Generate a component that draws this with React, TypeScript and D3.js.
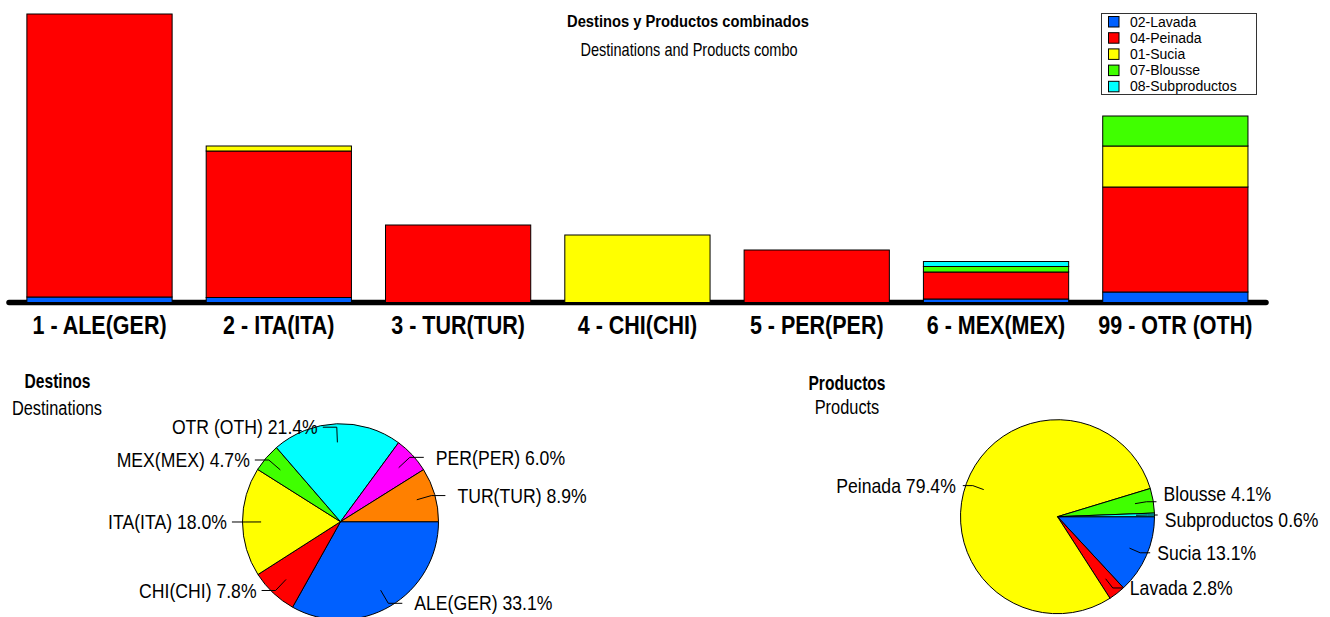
import * as d3 from 'd3'

// bar chart: destinations x products (stacked, bottom to top in legend order)
const DESTINATIONS = [
  '1 - ALE(GER)',
  '2 - ITA(ITA)',
  '3 - TUR(TUR)',
  '4 - CHI(CHI)',
  '5 - PER(PER)',
  '6 - MEX(MEX)',
  '99 - OTR (OTH)',
]
const PRODUCTS = ['02-Lavada', '04-Peinada', '01-Sucia', '07-Blousse', '08-Subproductos']
const PRODUCT_COLORS = ['#0060ff', '#ff0000', '#ffff00', '#40ff00', '#00ffff']
const LAVADA = [55, 50, 0, 0, 0, 35, 105]
const PEINADA = [2830, 1465, 775, 0, 525, 270, 1050]
const SUCIA = [0, 50, 0, 675, 0, 0, 410]
const BLOUSSE = [0, 0, 0, 0, 0, 55, 300]
const SUBPRODUCTOS = [0, 0, 0, 0, 0, 50, 0]

// pies
const PIE_COLORS = ['#0060ff', '#ff0000', '#ffff00', '#40ff00', '#00ffff', '#ff00ff', '#ff8000']
const DEST_PIE_LABELS = ['ALE(GER)', 'CHI(CHI)', 'ITA(ITA)', 'MEX(MEX)', 'OTR (OTH)', 'PER(PER)', 'TUR(TUR)']
const DEST_PIE_SHARES = [33.1, 7.8, 18.0, 4.7, 21.4, 6.0, 8.9]
const PROD_PIE_LABELS = ['Sucia', 'Lavada', 'Peinada', 'Blousse', 'Subproductos']
const PROD_PIE_SHARES = [13.1, 2.8, 79.4, 4.1, 0.6]

const WIDTH = 1330
const HEIGHT = 617
const FONT = "'Liberation Sans', Arial, sans-serif"
const BASELINE = 302.5

type Row = { dest: string } & Record<string, number | string>

const rows: Row[] = DESTINATIONS.map((dest, i) => ({
  dest,
  [PRODUCTS[0]]: LAVADA[i],
  [PRODUCTS[1]]: PEINADA[i],
  [PRODUCTS[2]]: SUCIA[i],
  [PRODUCTS[3]]: BLOUSSE[i],
  [PRODUCTS[4]]: SUBPRODUCTOS[i],
}))

// condensed look: plain sans squeezed horizontally
function Narrow({
  x,
  y,
  sx,
  size,
  bold,
  anchor = 'middle',
  dy,
  children,
}: {
  x: number
  y: number
  sx: number
  size: number
  bold?: boolean
  anchor?: 'start' | 'middle' | 'end'
  dy?: string
  children: string
}) {
  return (
    <g transform={`translate(${x},${y}) scale(${sx},1)`}>
      <text
        textAnchor={anchor}
        dy={dy}
        fontFamily={FONT}
        fontSize={size}
        fontWeight={bold ? 'bold' : 'normal'}
        fill="#000"
      >
        {children}
      </text>
    </g>
  )
}

type PieProps = {
  cx: number
  cy: number
  r: number
  labels: string[]
  shares: number[]
  elbowAt: number
  arm: number
  gapRight: number
  gapLeft: number
}

function LabeledPie({ cx, cy, r, labels, shares, elbowAt, arm, gapRight, gapLeft }: PieProps) {
  const arcs = d3
    .pie<number>()
    .sort(null)
    .value((d) => d)
    .startAngle(Math.PI / 2)
    .endAngle(Math.PI / 2 + 2 * Math.PI)(shares)
  const arc = d3.arc<d3.PieArcDatum<number>>().innerRadius(0).outerRadius(r)

  const items = arcs.map((a, i) => {
    const mid = (a.startAngle + a.endAngle) / 2
    const ux = Math.sin(mid)
    const uy = -Math.cos(mid)
    const right = ux >= 0
    const elbow: [number, number] = [ux * r * elbowAt, uy * r * elbowAt]
    const end: [number, number] = [elbow[0] + (right ? arm : -arm), elbow[1]]
    return {
      i,
      right,
      inner: [ux * r * 0.81, uy * r * 0.81] as [number, number],
      elbow,
      end,
      ty: elbow[1],
    }
  })

  // keep labels on the same side from overlapping
  for (const side of [true, false]) {
    const group = items.filter((d) => d.right === side).sort((a, b) => a.ty - b.ty)
    for (let k = 1; k < group.length; k++) {
      const gap = group[k].ty - group[k - 1].ty
      if (gap < 26) {
        const shift = (26 - gap) / 2
        group[k - 1].ty -= shift + 1.5
        group[k].ty += shift - 1.5
      }
    }
  }

  const line = d3.line()

  return (
    <g transform={`translate(${cx},${cy})`}>
      {arcs.map((a, i) => (
        <path key={i} d={arc(a) ?? undefined} fill={PIE_COLORS[i]} stroke="#000" strokeWidth={1} />
      ))}
      {items.map((d) => (
        <g key={d.i}>
          <path d={line([d.inner, d.elbow, d.end]) ?? undefined} fill="none" stroke="#000" strokeWidth={1} />
          <Narrow
            x={d.end[0] + (d.right ? gapRight : -gapLeft)}
            y={d.ty}
            sx={0.86}
            size={20.5}
            anchor={d.right ? 'start' : 'end'}
            dy="0.35em"
          >
            {`${labels[d.i]} ${shares[d.i].toFixed(1)}%`}
          </Narrow>
        </g>
      ))}
    </g>
  )
}

export default function App() {
  const x = d3.scaleBand<string>().domain(DESTINATIONS).range([9.85, 1265]).paddingInner(0.19).paddingOuter(0.095)
  const series = d3.stack<Row>().keys(PRODUCTS)(rows)
  const maxTotal = d3.max(series[series.length - 1], (d) => d[1]) ?? 1
  const y = d3.scaleLinear().domain([0, maxTotal]).range([BASELINE, 14])

  return (
    <svg
      width={WIDTH}
      height={HEIGHT}
      viewBox={`0 0 ${WIDTH} ${HEIGHT}`}
      style={{ position: 'absolute', left: 0, top: 0, background: '#fff' }}
    >
      {/* axis base line */}
      <line x1={9} x2={1266} y1={BASELINE} y2={BASELINE} stroke="#000" strokeWidth={5.5} strokeLinecap="round" />

      {series.map((s, si) => (
        <g key={s.key} fill={PRODUCT_COLORS[si]} stroke="#000" strokeWidth={1}>
          {s.map((d, di) =>
            d[1] - d[0] > 0 ? (
              <rect
                key={di}
                x={x(DESTINATIONS[di])}
                y={y(d[1])}
                width={x.bandwidth()}
                height={y(d[0]) - y(d[1])}
              />
            ) : null
          )}
        </g>
      ))}

      {DESTINATIONS.map((d) => (
        <Narrow key={d} x={(x(d) ?? 0) + x.bandwidth() / 2} y={334} sx={0.86} size={25} bold>
          {d}
        </Narrow>
      ))}

      {/* titles */}
      <Narrow x={688} y={27} sx={0.92} size={16} bold>
        Destinos y Productos combinados
      </Narrow>
      <Narrow x={689} y={56} sx={0.83} size={17.5}>
        Destinations and Products combo
      </Narrow>

      {/* legend */}
      <rect x={1101.5} y={13.5} width={155} height={81} fill="#fff" stroke="#333" strokeWidth={1} />
      {PRODUCTS.map((p, i) => (
        <g key={p} transform={`translate(1108,${16 + i * 16.2})`}>
          <rect x={0.5} y={0.5} width={10.5} height={10.5} fill={PRODUCT_COLORS[i]} stroke="#000" strokeWidth={1} />
          <text x={22} y={5.5} dy="0.36em" fontFamily={FONT} fontSize={14} fill="#000">
            {p}
          </text>
        </g>
      ))}

      {/* destinations pie */}
      <Narrow x={57.5} y={388} sx={0.8} size={19.5} bold>
        Destinos
      </Narrow>
      <Narrow x={57} y={415} sx={0.78} size={21}>
        Destinations
      </Narrow>
      <LabeledPie
        cx={340.5}
        cy={521.7}
        r={98}
        labels={DEST_PIE_LABELS}
        shares={DEST_PIE_SHARES}
        elbowAt={0.965}
        arm={14}
        gapRight={12}
        gapLeft={5}
      />

      {/* products pie */}
      <Narrow x={847} y={389.5} sx={0.8} size={19.5} bold>
        Productos
      </Narrow>
      <Narrow x={847} y={413.5} sx={0.78} size={21}>
        Products
      </Narrow>
      <LabeledPie
        cx={1057.5}
        cy={516.7}
        r={97}
        labels={PROD_PIE_LABELS}
        shares={PROD_PIE_SHARES}
        elbowAt={0.93}
        arm={10}
        gapRight={7}
        gapLeft={7}
      />
    </svg>
  )
}
